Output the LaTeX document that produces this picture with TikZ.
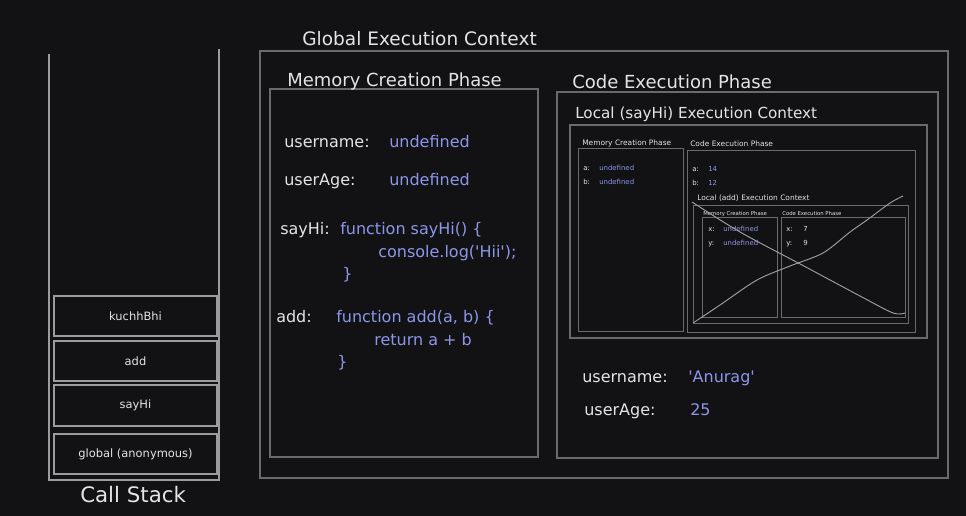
\documentclass[tikz,border=0pt]{standalone}
\usepackage{fontspec}
\setmainfont{DejaVu Sans}[Ligatures=TeXOff]
\usetikzlibrary{fit}
\definecolor{bg}{HTML}{121214}
\definecolor{fg}{HTML}{E4E4E4}
\definecolor{val}{HTML}{8D96E8}
\definecolor{frame}{HTML}{6A6A6A}
\definecolor{sframe}{HTML}{9C9C9C}
\definecolor{xline}{HTML}{A0A0A0}
\newcommand{\fs}[1]{\fontsize{#1pt}{#1pt}\selectfont}
\tikzset{
  box/.style={draw=frame, line width=0.9pt, inner sep=0pt, fit={#1}},
  sbox/.style={draw=frame, line width=0.6pt, inner sep=0pt, fit={#1}},
  stk/.style={draw=sframe, line width=0.9pt, inner sep=0pt, fit={#1}},
  t/.style={anchor=base west, inner sep=0pt, text=fg},
  v/.style={anchor=base west, inner sep=0pt, text=val},
  big/.style={font=\fs{13.9}},
  sec/.style={font=\fs{13.5}},
  body/.style={font=\fs{12}},
  loc/.style={font=\fs{11.4}},
  stl/.style={font=\fs{8.6}, text=fg, inner sep=0pt},
  mid/.style={font=\fs{5.6}},
  midv/.style={font=\fs{5.2}},
  tiny/.style={font=\fs{4}},
}
\begin{document}
\begin{tikzpicture}[x=0.75pt,y=-0.75pt]
\fill[bg] (0,0) rectangle (966,516);
\useasboundingbox (0,0) rectangle (966,516);

% ---------- Call stack ----------
\coordinate (csTL) at (49,54);
\coordinate (csBL) at (49,480);
\coordinate (csBR) at (219,480);
\coordinate (csTR) at (219,49);
\draw[draw=sframe, line width=0.9pt] (csTL) -- (csBL) -- (csBR) -- (csTR);
\node[stk={(54,296)(217,336)}] (s1) {};
\node[stk={(54,341)(217,381)}] (s2) {};
\node[stk={(54,385)(217,426)}] (s3) {};
\node[stk={(54,434)(217,474)}] (s4) {};
\node[stl] (s1t) at (s1.center) {kuchhBhi};
\node[stl] (s2t) at (s2.center) {add};
\node[stl] (s3t) at (s3.center) {sayHi};
\node[stl] (s4t) at (s4.center) {global (anonymous)};
\node[t, font=\fs{16}] (cst) at (80,502) {Call Stack};

% ---------- Global execution context ----------
\node[box={(260,51)(948,478)}] (gec) {};
\node[t, big] (gect) at (302,46) {Global Execution Context};

% Memory creation phase
\node[box={(270,89)(538,457)}] (mcp) {};
\node[t, sec] (mcpt) at (287,87) {Memory Creation Phase};
\node[t, body] (m1) at (284,148) {username:};
\node[v, body] (m1v) at (389,148) {undefined};
\node[t, body] (m2) at (284,186) {userAge:};
\node[v, body] (m2v) at (389,186) {undefined};
\node[t, body] (m3) at (280,235) {sayHi:};
\node[v, body] (m3a) at (340,235) {function sayHi() \{};
\node[v, body] (m3b) at (378,258) {console.log('Hii');};
\node[v, body] (m3c) at (342,280) {\}};
\node[t, body] (m4) at (276,322) {add:};
\node[v, body] (m4a) at (336,322) {function add(a, b) \{};
\node[v, body] (m4b) at (374,345) {return a + b};
\node[v, body] (m4c) at (337,367) {\}};

% Code execution phase
\node[box={(557,92)(938,458)}] (cep) {};
\node[t, sec] (cept) at (572,89) {Code Execution Phase};
\node[t, body] (c1) at (582,382) {username:};
\node[v, body] (c1v) at (688,382) {'Anurag'};
\node[t, body] (c2) at (584,415) {userAge:};
\node[v, body] (c2v) at (690,415) {25};

% Local (sayHi) execution context
\node[box={(570,125)(927,338)}] (lsh) {};
\node[t, loc] (lsht) at (575,119) {Local (sayHi) Execution Context};
\node[sbox={(578,148)(683,331)}] (lmcp) {};
\node[t, mid] (lmcpt) at (582,146) {Memory Creation Phase};
\node[t, midv] (la1) at (583,171) {a:};
\node[v, midv] (la1v) at (599,171) {undefined};
\node[t, midv] (la2) at (583,185) {b:};
\node[v, midv] (la2v) at (599,185) {undefined};
\node[sbox={(687,150)(915,332)}] (lcep) {};
\node[t, mid] (lcept) at (690,147) {Code Execution Phase};
\node[t, midv] (lc1) at (692,172) {a:};
\node[v, midv] (lc1v) at (708,172) {14};
\node[t, midv] (lc2) at (692,186) {b:};
\node[v, midv] (lc2v) at (708,186) {12};

% Local (add) execution context
\node[sbox={(693,205)(908,323)}] (lad) {};
\node[t, mid] (ladt) at (697,201) {Local (add) Execution Context};
\node[sbox={(702,217)(777,317)}] (amcp) {};
\node[t, tiny] (amcpt) at (703,215.5) {Memory Creation Phase};
\node[t, midv] (ax) at (708,232) {x:};
\node[v, midv] (axv) at (723,232) {undefined};
\node[t, midv] (ay) at (708,246) {y:};
\node[v, midv] (ayv) at (723,246) {undefined};
\node[sbox={(781,217)(905,317)}] (acep) {};
\node[t, tiny] (acept) at (782,215.5) {Code Execution Phase};
\node[t, midv] (cx) at (786,232) {x:};
\node[t, midv] (cxv) at (803,232) {7};
\node[t, midv] (cy) at (786,246) {y:};
\node[t, midv] (cyv) at (803,246) {9};

% crossing-out strokes
\draw[xline, line width=0.7pt] plot[smooth, tension=0.5] coordinates {(692,202) (740,232) (802,265) (860,296) (893,313) (905,313)};
\draw[xline, line width=0.7pt] plot[smooth, tension=0.5] coordinates {(693,323) (720,305) (757,280) (790,266) (823,253) (850,232) (867,220) (890,203) (903,196)};
\end{tikzpicture}
\end{document}
